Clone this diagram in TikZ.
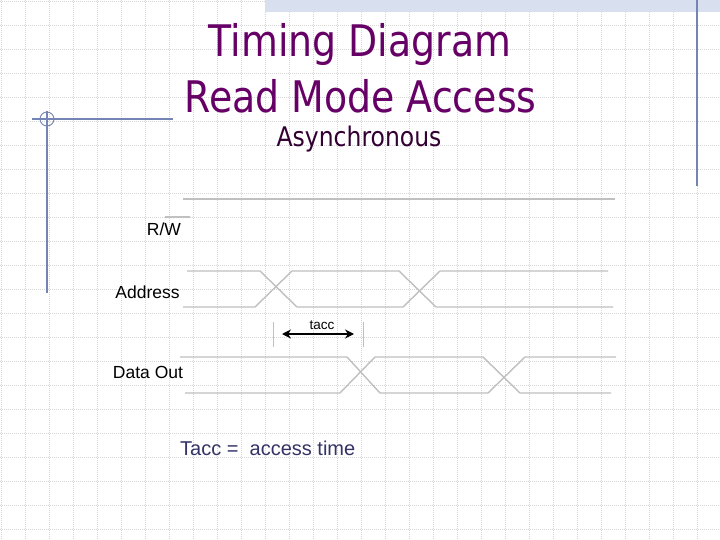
\documentclass[tikz,border=0pt]{standalone}
\usepackage{fontspec}
\setmainfont{Liberation Sans}
\newfontfamily\titlefont[FakeStretch=0.87]{DejaVu Sans}
\usetikzlibrary{arrows.meta}
\definecolor{titlepurple}{HTML}{660066}
\definecolor{subpurple}{HTML}{330033}
\definecolor{deco}{HTML}{7484B4}
\definecolor{gridc}{HTML}{D6D6D6}
\definecolor{wave}{HTML}{C0C0C0}
\definecolor{barfill}{HTML}{D8E0F0}
\definecolor{notec}{HTML}{333366}
\tikzset{
  gridline/.style={gridc, line width=0.6pt, dash pattern=on 1pt off 1pt},
  decoline/.style={deco, line width=1.3pt},
  waveline/.style={wave, line width=1.4pt, line join=miter},
  tickline/.style={wave, line width=1pt},
  siglabel/.style={font=\fontsize{17.5}{17.5}\selectfont, inner sep=0pt, text=black},
  titletext/.style={font=\titlefont\fontsize{43.5}{43.5}\selectfont, text=titlepurple, anchor=base, inner sep=0pt},
}
\begin{document}
\begin{tikzpicture}[x=1pt, y=-1pt]
\useasboundingbox (0,0) rectangle (720,540);
\fill[white] (0,0) rectangle (720,540);
% grid
\foreach \i in {1,25,...,697} {\draw[gridline] (\i,0) -- (\i,540);}
\foreach \j in {1,25,...,529} {\draw[gridline] (0,\j) -- (720,\j);}
% decorations
\fill[barfill] (265,0) rectangle (720,12.5);
\draw[decoline] (697,0) -- (697,186);
\draw[decoline] (47,111) -- (47,293);
\draw[decoline] (32,119) -- (173,119);
\draw[deco, line width=0.9pt] (47,119) circle[radius=7];
% titles
\node[titletext] (t1) at (360,57) {Timing Diagram};
\node[titletext] (t2) at (360.5,113) {Read Mode Access};
\node[font=\titlefont\fontsize{27}{27}\selectfont, text=subpurple, anchor=base, inner sep=0pt] (t3) at (359,147) {Asynchronous};
% R/W
\draw[waveline] (183,199) -- (615,199);
\draw[waveline] (165,217) -- (190,217);
\node[siglabel] (rw) at (164,229) {R/W};
% Address
\node[siglabel] (addr) at (147.5,292) {Address};
\draw[waveline] (187,271) -- (260,271) -- (297,307) -- (403,307) -- (440,271) -- (608,271);
\draw[waveline] (183,307) -- (255,307) -- (292,271) -- (399,271) -- (436,307) -- (613,307);
% tacc
\coordinate (k1) at (273,334);
\coordinate (k2) at (363,334);
\draw[tickline] (273,322) -- (273,347);
\draw[tickline] (363,322) -- (363,347);
\draw[black, line width=2.2pt, {Stealth[length=9pt,width=9pt]}-{Stealth[length=9pt,width=9pt]}, shorten <=9pt, shorten >=9pt] (k1) -- (k2);
\node[font=\fontsize{13.5}{13.5}\selectfont, inner sep=0pt] (tacc) at (322,325) {tacc};
% Data Out
\node[siglabel] (dout) at (148,372) {Data Out};
\draw[waveline] (180,357) -- (347,357) -- (380,393) -- (488,393) -- (525,357) -- (616,357);
\draw[waveline] (185,393) -- (340,393) -- (375,357) -- (483,357) -- (520,393) -- (611,393);
% note
\node[font=\fontsize{20}{20}\selectfont, text=notec, anchor=west, inner sep=0pt] (note) at (180,448) {Tacc =\ \ access time};
\end{tikzpicture}
\end{document}
